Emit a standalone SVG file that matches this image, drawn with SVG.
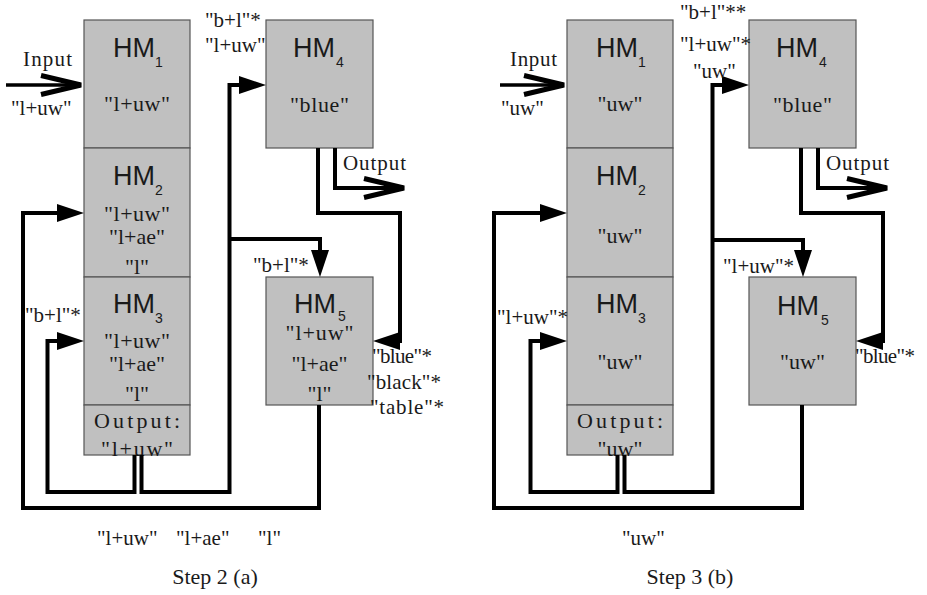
<svg xmlns="http://www.w3.org/2000/svg" xmlns:xlink="http://www.w3.org/1999/xlink" width="927" height="595" viewBox="0 0 927 595">
<style>
.box{fill:#c0c0c0;stroke:#555;stroke-width:1.2}
.hm{font-family:"Liberation Sans",Arial,sans-serif;font-size:27px;fill:#1a1a1a}
.sub{font-family:"Liberation Sans",Arial,sans-serif;font-size:14px;fill:#1a1a1a}
.t{font-family:"Liberation Serif","Times New Roman",serif;font-size:22px;fill:#1a1a1a;text-anchor:middle}
.l{font-family:"Liberation Serif","Times New Roman",serif;font-size:21px;fill:#1a1a1a}
.cap{font-family:"Liberation Serif","Times New Roman",serif;font-size:22px;fill:#1a1a1a;text-anchor:middle}
.ln{fill:none;stroke:#000;stroke-width:4;stroke-linejoin:miter;stroke-linecap:butt}
.thin{fill:none;stroke:#000;stroke-width:3.5}
.chev{fill:none;stroke:#000;stroke-width:5;stroke-linejoin:miter}
.ah{fill:#000}
</style>
<defs>
<path id="ah" class="ah" d="M0,0 L-27,-9 L-27,9 Z"/>
<path id="chev" class="chev" d="M-40,-9.5 L0,0 L-40,9.5"/>
</defs>
<rect width="927" height="595" fill="#fff"/>

<!-- ===== Step 2 (a) ===== -->
<g id="a-hm1">
<rect class="box" x="84" y="20" width="106" height="128"/>
<text class="hm" x="113" y="57">HM</text><text class="sub" x="155" y="67">1</text>
<text class="t" x="137" y="111" textLength="66" lengthAdjust="spacing">"l+uw"</text>
</g>
<g id="a-hm2">
<rect class="box" x="84" y="148" width="106" height="129"/>
<text class="hm" x="113" y="185">HM</text><text class="sub" x="155" y="195">2</text>
<text class="t" x="137" y="221" textLength="66" lengthAdjust="spacing">"l+uw"</text>
<text class="t" x="137" y="244">"l+ae"</text>
<text class="t" x="137" y="274">"l"</text>
</g>
<g id="a-hm3">
<rect class="box" x="84" y="277" width="106" height="128"/>
<text class="hm" x="113" y="313">HM</text><text class="sub" x="155" y="323">3</text>
<text class="t" x="137" y="348" textLength="66" lengthAdjust="spacing">"l+uw"</text>
<text class="t" x="137" y="371">"l+ae"</text>
<text class="t" x="137" y="401">"l"</text>
</g>
<g id="a-out">
<rect class="box" x="84" y="405" width="106" height="50"/>
<text class="t" x="137" y="428" textLength="86" lengthAdjust="spacing">Output:</text>
<text class="t" x="137" y="456" textLength="72" lengthAdjust="spacing">"l+uw"</text>
</g>
<g id="a-hm4">
<rect class="box" x="266" y="20" width="107" height="128"/>
<text class="hm" x="293" y="57">HM</text><text class="sub" x="336" y="67">4</text>
<text class="t" x="319.5" y="112" textLength="59" lengthAdjust="spacing">"blue"</text>
</g>
<g id="a-hm5">
<rect class="box" x="266" y="277" width="107" height="128"/>
<text class="hm" x="294" y="313">HM</text><text class="sub" x="338" y="321">5</text>
<text class="t" x="319.5" y="340" textLength="68" lengthAdjust="spacing">"l+uw"</text>
<text class="t" x="319.5" y="371">"l+ae"</text>
<text class="t" x="319.5" y="401">"l"</text>
</g>

<g id="a-connectors">
<path class="thin" d="M6,85 H80"/>
<use xlink:href="#chev" transform="translate(81,85)"/>
<path class="ln" d="M134.5,455 V492 H47.5 V341 H58"/>
<use xlink:href="#ah" transform="translate(84,341)"/>
<path class="ln" d="M141.5,455 V492 H229.5 V85 H240"/>
<use xlink:href="#ah" transform="translate(266,85)"/>
<path class="ln" d="M229.5,239 H320 V251"/>
<use xlink:href="#ah" transform="translate(320,277) rotate(90)"/>
<path class="ln" d="M319,405 V508 H23 V213 H58"/>
<use xlink:href="#ah" transform="translate(84,213)"/>
<path class="ln" d="M335,148 V188 H400"/>
<use xlink:href="#chev" transform="translate(404,188)"/>
<path class="ln" d="M318,148 V213 H400 V341 H398"/>
<use xlink:href="#ah" transform="translate(373,341) rotate(180)"/>
</g>

<g id="a-labels">
<text class="l" x="23" y="66" textLength="49" lengthAdjust="spacing">Input</text>
<text class="l" x="11" y="115">"l+uw"</text>
<text class="l" x="205" y="27">"b+l"*</text>
<text class="l" x="205" y="52">"l+uw"</text>
<text class="l" x="253" y="272">"b+l"*</text>
<text class="l" x="25" y="322">"b+l"*</text>
<text class="l" x="343" y="170" textLength="63" lengthAdjust="spacing">Output</text>
<text class="l" x="372" y="363" textLength="60" lengthAdjust="spacing">"blue"*</text>
<text class="l" x="367" y="389" textLength="74" lengthAdjust="spacing">"black"*</text>
<text class="l" x="370" y="414" textLength="74" lengthAdjust="spacing">"table"*</text>
<text class="l" x="97" y="545">"l+uw"</text>
<text class="l" x="176" y="545">"l+ae"</text>
<text class="l" x="258" y="545">"l"</text>
<text class="cap" x="215" y="584">Step 2 (a)</text>
</g>

<!-- ===== Step 3 (b) ===== -->
<g id="b-hm1">
<rect class="box" x="567" y="20" width="106" height="128"/>
<text class="hm" x="596" y="57">HM</text><text class="sub" x="638" y="67">1</text>
<text class="t" x="620" y="111">"uw"</text>
</g>
<g id="b-hm2">
<rect class="box" x="567" y="148" width="106" height="129"/>
<text class="hm" x="596" y="185">HM</text><text class="sub" x="638" y="195">2</text>
<text class="t" x="620" y="243">"uw"</text>
</g>
<g id="b-hm3">
<rect class="box" x="567" y="277" width="106" height="128"/>
<text class="hm" x="596" y="313">HM</text><text class="sub" x="638" y="323">3</text>
<text class="t" x="620" y="369">"uw"</text>
</g>
<g id="b-out">
<rect class="box" x="567" y="405" width="106" height="50"/>
<text class="t" x="620" y="428" textLength="86" lengthAdjust="spacing">Output:</text>
<text class="t" x="620" y="456">"uw"</text>
</g>
<g id="b-hm4">
<rect class="box" x="749" y="20" width="107" height="128"/>
<text class="hm" x="776" y="57">HM</text><text class="sub" x="819" y="67">4</text>
<text class="t" x="802.5" y="112" textLength="59" lengthAdjust="spacing">"blue"</text>
</g>
<g id="b-hm5">
<rect class="box" x="749" y="277" width="107" height="128"/>
<text class="hm" x="777" y="315">HM</text><text class="sub" x="821" y="325">5</text>
<text class="t" x="802.5" y="369">"uw"</text>
</g>

<g id="b-connectors">
<path class="thin" d="M500,85 H563"/>
<use xlink:href="#chev" transform="translate(564,85)"/>
<path class="ln" d="M617.5,455 V492 H530.5 V341 H541"/>
<use xlink:href="#ah" transform="translate(567,341)"/>
<path class="ln" d="M624.5,455 V492 H712.5 V85 H723"/>
<use xlink:href="#ah" transform="translate(749,85)"/>
<path class="ln" d="M712.5,240 H803 V251"/>
<use xlink:href="#ah" transform="translate(803,277) rotate(90)"/>
<path class="ln" d="M802,405 V508 H494 V213 H541"/>
<use xlink:href="#ah" transform="translate(567,213)"/>
<path class="ln" d="M818,148 V188 H883"/>
<use xlink:href="#chev" transform="translate(887,188)"/>
<path class="ln" d="M801,148 V213 H883 V341 H881"/>
<use xlink:href="#ah" transform="translate(856,341) rotate(180)"/>
</g>

<g id="b-labels">
<text class="l" x="510" y="66" textLength="47" lengthAdjust="spacing">Input</text>
<text class="l" x="501" y="115">"uw"</text>
<text class="l" x="680" y="19">"b+l"**</text>
<text class="l" x="680" y="51">"l+uw"*</text>
<text class="l" x="693" y="78">"uw"</text>
<text class="l" x="497" y="324">"l+uw"*</text>
<text class="l" x="723" y="273">"l+uw"*</text>
<text class="l" x="826" y="170" textLength="63" lengthAdjust="spacing">Output</text>
<text class="l" x="855" y="363" textLength="60" lengthAdjust="spacing">"blue"*</text>
<text class="l" x="622" y="545">"uw"</text>
<text class="cap" x="690" y="584">Step 3 (b)</text>
</g>
</svg>
